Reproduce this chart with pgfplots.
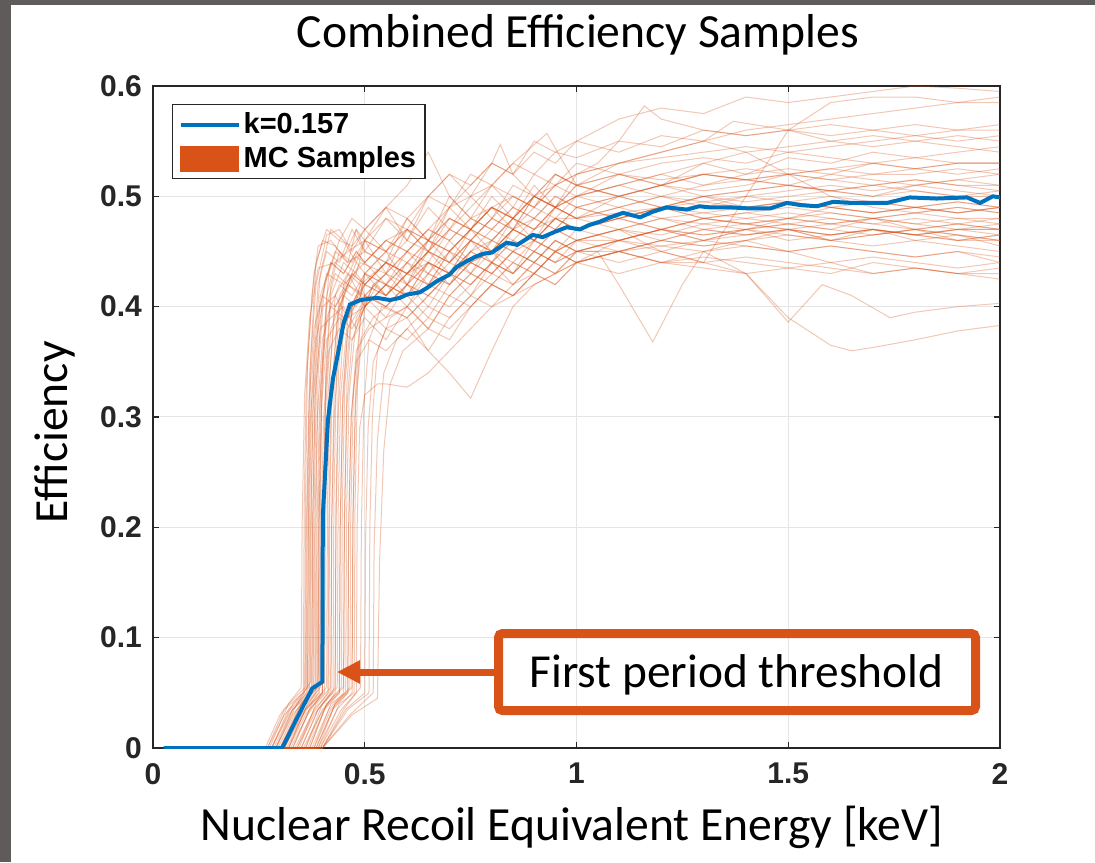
\documentclass[border=0pt]{standalone}
\usepackage{pgfplots}
\pgfplotsset{compat=1.18}
\usepackage{fontspec}
\setmainfont{Carlito}
\newfontfamily\tickfont{Liberation Sans}
\usetikzlibrary{arrows.meta}
\definecolor{mcblue}{RGB}{0,114,189}
\definecolor{mcorange}{RGB}{217,83,25}
\definecolor{framegray}{RGB}{95,91,90}
\definecolor{axgray}{RGB}{38,38,38}
\pgfplotsset{mcline/.style={mcorange, line width=0.5pt, draw opacity=0.32, forget plot, no markers}}
\newcommand{\mc}[1]{\addplot[mcline] coordinates {#1};}
\begin{document}
\begin{tikzpicture}
\begin{scope}[x=0.5pt,y=0.5pt]
\fill[framegray] (-153,-114) rectangle (942,748);
\fill[white] (-142,-114) rectangle (942,743);
\end{scope}
\begin{axis}[
  at={(0,0)}, anchor=south west, scale only axis,
  width=423.5pt, height=331pt,
  xmin=0, xmax=2, ymin=0, ymax=0.6,
  xtick={0,0.5,1,1.5,2}, ytick={0,0.1,0.2,0.3,0.4,0.5,0.6},
  grid=major, major grid style={draw=black!10, line width=0.5pt},
  axis line style={draw=axgray, line width=0.7pt},
  tick style={draw=axgray, line width=0.7pt},
  tick align=inside, major tick length=3pt,
  /pgf/number format/assume math mode=true,
  ticklabel style={font=\tickfont\bfseries\fontsize{15}{18}\selectfont, text=axgray},
  xticklabel style={yshift=-4pt},
  yticklabel style={xshift=-2pt},
  title={Combined Efficiency Samples},
  title style={at={(axis description cs:0.5018,1.0393)}, anchor=base, font=\fontsize{23.8}{28}\selectfont},
  xlabel={Nuclear Recoil Equivalent Energy [keV]},
  xlabel style={at={(axis description cs:0.4947,-0.139)}, anchor=base, font=\fontsize{23.8}{28}\selectfont},
  ylabel={Efficiency},
  ylabel style={at={(axis description cs:-0.1015,0.477)}, anchor=base, font=\fontsize{23.8}{28}\selectfont},
  legend cell align=left,
  legend style={at={(axis description cs:0.0224,0.9728)}, anchor=north west, draw=axgray, line width=0.7pt, fill=white,
    inner xsep=3pt, inner ysep=2.5pt, row sep=2pt,
    font=\tickfont\bfseries\fontsize{14.5}{17}\selectfont, nodes={inner sep=1.5pt}},
]
\addlegendimage{legend image code/.code={\draw[mcblue, line width=2pt] (0pt,0pt) -- (29pt,0pt);}}
\addlegendentry{k=0.157}
\addlegendimage{legend image code/.code={\fill[mcorange] (0pt,-6.25pt) rectangle (29pt,6.25pt);}}
\addlegendentry{MC Samples}

\mc{(0.25,0)(0.265,0)(0.30,0.03)(0.35,0.055)(0.352,0.2)(0.358,0.32)(0.37,0.39)(0.39,0.435)(0.43,0.44)(0.46,0.45)(0.5,0.46)(0.55,0.45)(0.6,0.47)(0.65,0.46)(0.7,0.48)(0.75,0.47)(0.8,0.49)(0.85,0.50)(0.9,0.49)(0.95,0.51)(1.0,0.50)(1.1,0.51)(1.2,0.52)(1.3,0.51)(1.4,0.52)(1.5,0.525)(1.6,0.52)(1.7,0.53)(1.8,0.525)(1.9,0.53)(2.0,0.53)}
\mc{(0.25,0)(0.27,0)(0.31,0.035)(0.355,0.05)(0.357,0.22)(0.362,0.33)(0.375,0.41)(0.39,0.455)(0.42,0.46)(0.45,0.445)(0.48,0.47)(0.5,0.46)(0.55,0.48)(0.6,0.47)(0.65,0.50)(0.7,0.49)(0.75,0.52)(0.8,0.51)(0.85,0.53)(0.9,0.52)(0.95,0.54)(1.0,0.535)(1.1,0.55)(1.2,0.545)(1.3,0.56)(1.4,0.555)(1.5,0.56)(1.6,0.565)(1.7,0.56)(1.8,0.565)(1.9,0.56)(2.0,0.565)}
\mc{(0.25,0)(0.275,0)(0.32,0.04)(0.36,0.055)(0.362,0.2)(0.368,0.31)(0.38,0.38)(0.40,0.41)(0.43,0.40)(0.46,0.42)(0.5,0.41)(0.55,0.43)(0.6,0.42)(0.65,0.44)(0.7,0.43)(0.75,0.45)(0.8,0.44)(0.85,0.46)(0.9,0.45)(0.95,0.47)(1.0,0.46)(1.1,0.47)(1.2,0.465)(1.3,0.475)(1.4,0.47)(1.5,0.48)(1.6,0.475)(1.7,0.48)(1.8,0.47)(1.9,0.475)(2.0,0.48)}
\mc{(0.25,0)(0.28,0)(0.32,0.03)(0.362,0.05)(0.364,0.21)(0.37,0.34)(0.385,0.42)(0.41,0.465)(0.44,0.47)(0.47,0.45)(0.5,0.47)(0.55,0.49)(0.6,0.46)(0.65,0.50)(0.7,0.52)(0.75,0.50)(0.8,0.53)(0.85,0.52)(0.9,0.55)(0.95,0.54)(1.0,0.55)(1.1,0.57)(1.2,0.58)(1.3,0.575)(1.4,0.59)(1.5,0.585)(1.6,0.59)(1.7,0.595)(1.8,0.60)(1.9,0.598)(2.0,0.595)}
\mc{(0.25,0)(0.28,0)(0.33,0.04)(0.365,0.055)(0.367,0.2)(0.372,0.3)(0.385,0.37)(0.40,0.40)(0.43,0.41)(0.46,0.39)(0.5,0.40)(0.55,0.42)(0.6,0.41)(0.65,0.39)(0.7,0.42)(0.75,0.44)(0.8,0.43)(0.85,0.45)(0.9,0.44)(0.95,0.46)(1.0,0.45)(1.1,0.46)(1.2,0.455)(1.3,0.46)(1.4,0.47)(1.5,0.465)(1.6,0.46)(1.7,0.465)(1.8,0.47)(1.9,0.465)(2.0,0.46)}
\mc{(0.25,0)(0.285,0)(0.33,0.035)(0.368,0.05)(0.37,0.22)(0.376,0.34)(0.39,0.42)(0.41,0.45)(0.44,0.44)(0.47,0.47)(0.5,0.45)(0.55,0.44)(0.6,0.48)(0.65,0.46)(0.7,0.50)(0.75,0.48)(0.8,0.51)(0.85,0.50)(0.9,0.49)(0.95,0.52)(1.0,0.51)(1.1,0.50)(1.2,0.51)(1.3,0.52)(1.4,0.515)(1.5,0.51)(1.6,0.52)(1.7,0.515)(1.8,0.51)(1.9,0.515)(2.0,0.52)}
\mc{(0.25,0)(0.29,0)(0.33,0.03)(0.37,0.05)(0.372,0.2)(0.378,0.31)(0.39,0.39)(0.41,0.43)(0.45,0.42)(0.5,0.44)(0.55,0.42)(0.6,0.45)(0.65,0.43)(0.7,0.46)(0.75,0.44)(0.8,0.45)(0.85,0.47)(0.9,0.46)(0.95,0.48)(1.0,0.47)(1.1,0.48)(1.2,0.49)(1.3,0.485)(1.4,0.49)(1.5,0.495)(1.6,0.49)(1.7,0.485)(1.8,0.49)(1.9,0.495)(2.0,0.49)}
\mc{(0.25,0)(0.29,0)(0.34,0.04)(0.372,0.06)(0.374,0.23)(0.38,0.35)(0.395,0.43)(0.42,0.47)(0.45,0.46)(0.48,0.44)(0.5,0.46)(0.55,0.43)(0.6,0.47)(0.65,0.45)(0.7,0.49)(0.75,0.47)(0.8,0.50)(0.85,0.48)(0.9,0.51)(0.95,0.49)(1.0,0.50)(1.1,0.52)(1.2,0.51)(1.3,0.53)(1.4,0.52)(1.5,0.535)(1.6,0.53)(1.7,0.54)(1.8,0.535)(1.9,0.54)(2.0,0.545)}
\mc{(0.25,0)(0.295,0)(0.34,0.035)(0.375,0.05)(0.377,0.2)(0.383,0.32)(0.395,0.38)(0.42,0.39)(0.45,0.40)(0.48,0.38)(0.5,0.41)(0.55,0.39)(0.6,0.42)(0.65,0.40)(0.7,0.43)(0.75,0.41)(0.8,0.44)(0.85,0.42)(0.9,0.43)(0.95,0.45)(1.0,0.44)(1.1,0.45)(1.2,0.44)(1.3,0.45)(1.4,0.455)(1.5,0.45)(1.6,0.44)(1.7,0.445)(1.8,0.44)(1.9,0.435)(2.0,0.44)}
\mc{(0.25,0)(0.30,0)(0.34,0.03)(0.378,0.05)(0.38,0.21)(0.386,0.33)(0.40,0.41)(0.42,0.44)(0.45,0.43)(0.48,0.45)(0.5,0.44)(0.55,0.46)(0.6,0.45)(0.65,0.47)(0.7,0.46)(0.75,0.48)(0.8,0.47)(0.85,0.49)(0.9,0.48)(0.95,0.50)(1.0,0.49)(1.1,0.50)(1.2,0.49)(1.3,0.50)(1.4,0.495)(1.5,0.50)(1.6,0.505)(1.7,0.50)(1.8,0.51)(1.9,0.505)(2.0,0.50)}
\mc{(0.25,0)(0.30,0)(0.35,0.04)(0.38,0.055)(0.382,0.2)(0.388,0.3)(0.40,0.37)(0.42,0.40)(0.45,0.39)(0.48,0.41)(0.5,0.40)(0.55,0.42)(0.6,0.40)(0.65,0.43)(0.7,0.42)(0.75,0.44)(0.8,0.45)(0.85,0.43)(0.9,0.46)(0.95,0.45)(1.0,0.47)(1.1,0.46)(1.2,0.47)(1.3,0.465)(1.4,0.47)(1.5,0.475)(1.6,0.47)(1.7,0.48)(1.8,0.475)(1.9,0.47)(2.0,0.475)}
\mc{(0.25,0)(0.305,0)(0.35,0.035)(0.383,0.05)(0.385,0.22)(0.39,0.34)(0.405,0.42)(0.43,0.45)(0.46,0.44)(0.48,0.47)(0.5,0.45)(0.55,0.48)(0.6,0.46)(0.65,0.49)(0.7,0.47)(0.75,0.50)(0.8,0.51)(0.85,0.49)(0.9,0.52)(0.95,0.51)(1.0,0.53)(1.1,0.52)(1.2,0.53)(1.3,0.535)(1.4,0.53)(1.5,0.54)(1.6,0.535)(1.7,0.53)(1.8,0.535)(1.9,0.53)(2.0,0.53)}
\mc{(0.25,0)(0.31,0)(0.35,0.03)(0.385,0.05)(0.387,0.2)(0.393,0.31)(0.41,0.39)(0.44,0.42)(0.47,0.41)(0.5,0.43)(0.55,0.41)(0.6,0.44)(0.65,0.42)(0.7,0.45)(0.75,0.43)(0.8,0.46)(0.85,0.45)(0.9,0.44)(0.95,0.46)(1.0,0.45)(1.1,0.46)(1.2,0.47)(1.3,0.46)(1.4,0.465)(1.5,0.47)(1.6,0.46)(1.7,0.455)(1.8,0.46)(1.9,0.455)(2.0,0.45)}
\mc{(0.25,0)(0.31,0)(0.355,0.04)(0.388,0.055)(0.39,0.21)(0.396,0.33)(0.41,0.41)(0.43,0.44)(0.46,0.43)(0.49,0.41)(0.5,0.43)(0.55,0.45)(0.6,0.42)(0.65,0.46)(0.7,0.44)(0.75,0.47)(0.8,0.45)(0.85,0.48)(0.9,0.46)(0.95,0.49)(1.0,0.48)(1.1,0.49)(1.2,0.50)(1.3,0.49)(1.4,0.50)(1.5,0.505)(1.6,0.51)(1.7,0.505)(1.8,0.51)(1.9,0.515)(2.0,0.51)}
\mc{(0.25,0)(0.315,0)(0.355,0.03)(0.39,0.05)(0.392,0.2)(0.398,0.31)(0.41,0.37)(0.44,0.39)(0.47,0.38)(0.5,0.40)(0.55,0.38)(0.6,0.39)(0.65,0.36)(0.7,0.34)(0.75,0.317)(0.8,0.36)(0.85,0.40)(0.9,0.42)(0.95,0.43)(1.0,0.44)(1.1,0.45)(1.2,0.46)(1.3,0.455)(1.4,0.46)(1.5,0.47)(1.6,0.465)(1.7,0.47)(1.8,0.465)(1.9,0.47)(2.0,0.465)}
\mc{(0.25,0)(0.32,0)(0.36,0.035)(0.393,0.05)(0.395,0.22)(0.40,0.35)(0.415,0.43)(0.44,0.46)(0.47,0.455)(0.5,0.47)(0.55,0.45)(0.6,0.48)(0.65,0.46)(0.7,0.49)(0.75,0.50)(0.8,0.48)(0.85,0.51)(0.9,0.50)(0.95,0.52)(1.0,0.51)(1.1,0.52)(1.2,0.515)(1.3,0.52)(1.4,0.525)(1.5,0.52)(1.6,0.515)(1.7,0.52)(1.8,0.525)(1.9,0.52)(2.0,0.525)}
\mc{(0.25,0)(0.32,0)(0.365,0.04)(0.395,0.055)(0.397,0.2)(0.403,0.3)(0.415,0.36)(0.44,0.38)(0.47,0.37)(0.5,0.39)(0.55,0.37)(0.6,0.40)(0.65,0.38)(0.7,0.41)(0.75,0.40)(0.8,0.42)(0.85,0.41)(0.9,0.43)(0.95,0.42)(1.0,0.44)(1.1,0.43)(1.2,0.44)(1.3,0.435)(1.4,0.43)(1.5,0.435)(1.6,0.43)(1.7,0.44)(1.8,0.435)(1.9,0.43)(2.0,0.425)}
\mc{(0.25,0)(0.325,0)(0.365,0.03)(0.40,0.05)(0.402,0.21)(0.408,0.33)(0.42,0.41)(0.45,0.44)(0.48,0.43)(0.5,0.46)(0.55,0.49)(0.6,0.51)(0.65,0.54)(0.7,0.50)(0.75,0.48)(0.8,0.47)(0.85,0.49)(0.9,0.48)(0.95,0.50)(1.0,0.49)(1.1,0.50)(1.2,0.49)(1.3,0.495)(1.4,0.50)(1.5,0.495)(1.6,0.49)(1.7,0.495)(1.8,0.49)(1.9,0.485)(2.0,0.49)}
\mc{(0.25,0)(0.33,0)(0.37,0.035)(0.405,0.05)(0.407,0.2)(0.413,0.32)(0.43,0.40)(0.46,0.42)(0.49,0.41)(0.5,0.43)(0.55,0.42)(0.6,0.44)(0.65,0.43)(0.7,0.45)(0.75,0.47)(0.8,0.46)(0.85,0.48)(0.9,0.47)(0.95,0.49)(1.0,0.48)(1.1,0.485)(1.2,0.49)(1.3,0.48)(1.4,0.485)(1.5,0.48)(1.6,0.475)(1.7,0.48)(1.8,0.475)(1.9,0.48)(2.0,0.48)}
\mc{(0.25,0)(0.33,0)(0.375,0.04)(0.41,0.055)(0.412,0.22)(0.418,0.34)(0.43,0.41)(0.46,0.43)(0.49,0.42)(0.55,0.44)(0.6,0.43)(0.65,0.45)(0.7,0.44)(0.75,0.46)(0.8,0.45)(0.85,0.47)(0.9,0.48)(0.95,0.47)(1.0,0.49)(1.1,0.48)(1.2,0.47)(1.3,0.48)(1.4,0.475)(1.5,0.47)(1.6,0.465)(1.7,0.47)(1.8,0.46)(1.9,0.465)(2.0,0.455)}
\mc{(0.25,0)(0.335,0)(0.375,0.03)(0.413,0.05)(0.415,0.2)(0.42,0.31)(0.435,0.39)(0.46,0.42)(0.49,0.44)(0.55,0.43)(0.6,0.45)(0.65,0.47)(0.7,0.49)(0.75,0.51)(0.8,0.53)(0.82,0.547)(0.85,0.52)(0.9,0.50)(0.95,0.51)(1.0,0.52)(1.1,0.53)(1.2,0.535)(1.3,0.54)(1.4,0.545)(1.5,0.54)(1.6,0.545)(1.7,0.55)(1.8,0.555)(1.9,0.55)(2.0,0.555)}
\mc{(0.25,0)(0.34,0)(0.38,0.035)(0.415,0.05)(0.417,0.21)(0.423,0.33)(0.44,0.41)(0.47,0.43)(0.50,0.42)(0.55,0.44)(0.6,0.42)(0.65,0.45)(0.7,0.43)(0.75,0.46)(0.8,0.44)(0.85,0.47)(0.9,0.46)(0.95,0.48)(1.0,0.47)(1.1,0.48)(1.2,0.49)(1.3,0.48)(1.4,0.485)(1.5,0.49)(1.6,0.485)(1.7,0.48)(1.8,0.485)(1.9,0.49)(2.0,0.485)}
\mc{(0.25,0)(0.345,0)(0.385,0.04)(0.42,0.055)(0.422,0.2)(0.428,0.3)(0.44,0.37)(0.47,0.40)(0.5,0.41)(0.55,0.40)(0.6,0.42)(0.65,0.41)(0.7,0.43)(0.75,0.42)(0.8,0.44)(0.85,0.43)(0.9,0.45)(0.95,0.44)(1.0,0.45)(1.05,0.45)(1.1,0.42)(1.18,0.368)(1.25,0.42)(1.3,0.45)(1.4,0.46)(1.5,0.465)(1.6,0.46)(1.7,0.47)(1.8,0.465)(1.9,0.47)(2.0,0.47)}
\mc{(0.25,0)(0.35,0)(0.39,0.035)(0.425,0.05)(0.427,0.22)(0.433,0.34)(0.45,0.42)(0.48,0.445)(0.5,0.44)(0.55,0.46)(0.6,0.45)(0.65,0.47)(0.7,0.46)(0.75,0.48)(0.8,0.49)(0.85,0.47)(0.9,0.50)(0.95,0.49)(1.0,0.51)(1.1,0.50)(1.2,0.51)(1.3,0.505)(1.4,0.51)(1.5,0.52)(1.6,0.515)(1.7,0.51)(1.8,0.515)(1.9,0.51)(2.0,0.505)}
\mc{(0.25,0)(0.355,0)(0.395,0.03)(0.43,0.05)(0.432,0.2)(0.438,0.31)(0.45,0.38)(0.48,0.41)(0.5,0.42)(0.55,0.41)(0.6,0.43)(0.65,0.45)(0.7,0.44)(0.75,0.46)(0.8,0.45)(0.85,0.47)(0.9,0.46)(0.95,0.48)(1.0,0.48)(1.1,0.47)(1.2,0.45)(1.3,0.44)(1.4,0.50)(1.5,0.56)(1.6,0.585)(1.7,0.59)(1.8,0.59)(1.9,0.585)(2.0,0.585)}
\mc{(0.25,0)(0.36,0)(0.40,0.04)(0.435,0.055)(0.437,0.21)(0.443,0.32)(0.46,0.39)(0.49,0.41)(0.5,0.40)(0.55,0.42)(0.6,0.41)(0.65,0.43)(0.7,0.42)(0.75,0.44)(0.8,0.43)(0.85,0.45)(0.9,0.46)(0.95,0.45)(1.0,0.46)(1.1,0.47)(1.2,0.46)(1.3,0.47)(1.4,0.465)(1.5,0.47)(1.6,0.475)(1.7,0.47)(1.8,0.465)(1.9,0.47)(2.0,0.47)}
\mc{(0.25,0)(0.365,0)(0.405,0.035)(0.44,0.05)(0.442,0.2)(0.448,0.32)(0.46,0.38)(0.49,0.42)(0.5,0.41)(0.55,0.43)(0.6,0.45)(0.65,0.44)(0.7,0.47)(0.75,0.49)(0.8,0.51)(0.85,0.53)(0.93,0.557)(0.97,0.53)(1.0,0.51)(1.1,0.52)(1.2,0.51)(1.3,0.52)(1.4,0.515)(1.5,0.52)(1.6,0.525)(1.7,0.53)(1.8,0.525)(1.9,0.53)(2.0,0.53)}
\mc{(0.25,0)(0.37,0)(0.41,0.04)(0.445,0.055)(0.447,0.22)(0.453,0.33)(0.47,0.40)(0.50,0.42)(0.55,0.41)(0.6,0.43)(0.65,0.42)(0.7,0.44)(0.75,0.43)(0.8,0.45)(0.85,0.44)(0.9,0.46)(0.95,0.45)(1.0,0.46)(1.1,0.46)(1.2,0.47)(1.3,0.465)(1.4,0.47)(1.5,0.46)(1.6,0.465)(1.7,0.47)(1.8,0.465)(1.9,0.46)(2.0,0.465)}
\mc{(0.25,0)(0.375,0)(0.415,0.035)(0.45,0.05)(0.452,0.2)(0.458,0.31)(0.47,0.37)(0.50,0.40)(0.55,0.42)(0.6,0.41)(0.65,0.44)(0.7,0.43)(0.75,0.46)(0.8,0.48)(0.85,0.47)(0.9,0.50)(0.95,0.49)(1.0,0.52)(1.05,0.53)(1.1,0.55)(1.16,0.582)(1.2,0.57)(1.3,0.56)(1.4,0.555)(1.5,0.56)(1.6,0.555)(1.7,0.56)(1.8,0.555)(1.9,0.56)(2.0,0.56)}
\mc{(0.25,0)(0.38,0)(0.42,0.04)(0.455,0.05)(0.457,0.21)(0.463,0.32)(0.48,0.39)(0.51,0.41)(0.55,0.40)(0.6,0.42)(0.65,0.41)(0.7,0.43)(0.75,0.44)(0.8,0.43)(0.85,0.45)(0.9,0.44)(0.95,0.46)(1.0,0.45)(1.1,0.46)(1.2,0.45)(1.3,0.46)(1.4,0.455)(1.5,0.45)(1.6,0.455)(1.7,0.45)(1.8,0.445)(1.9,0.45)(2.0,0.445)}
\mc{(0.25,0)(0.385,0)(0.425,0.035)(0.46,0.05)(0.462,0.2)(0.468,0.3)(0.48,0.36)(0.51,0.38)(0.55,0.39)(0.6,0.40)(0.65,0.42)(0.7,0.41)(0.75,0.43)(0.8,0.42)(0.85,0.44)(0.9,0.43)(0.95,0.45)(1.0,0.44)(1.1,0.45)(1.2,0.44)(1.3,0.445)(1.4,0.44)(1.5,0.435)(1.6,0.44)(1.7,0.43)(1.8,0.435)(1.9,0.43)(2.0,0.435)}
\mc{(0.25,0)(0.39,0)(0.43,0.04)(0.465,0.055)(0.467,0.21)(0.473,0.32)(0.49,0.39)(0.52,0.42)(0.55,0.41)(0.6,0.43)(0.65,0.42)(0.7,0.45)(0.75,0.44)(0.8,0.46)(0.85,0.48)(0.9,0.47)(0.95,0.49)(1.0,0.48)(1.1,0.50)(1.2,0.51)(1.3,0.50)(1.4,0.505)(1.5,0.51)(1.6,0.505)(1.7,0.50)(1.8,0.505)(1.9,0.50)(2.0,0.50)}
\mc{(0.25,0)(0.39,0)(0.435,0.035)(0.47,0.05)(0.472,0.2)(0.478,0.31)(0.49,0.37)(0.52,0.39)(0.55,0.40)(0.6,0.39)(0.65,0.41)(0.7,0.43)(0.75,0.42)(0.8,0.44)(0.85,0.43)(0.9,0.45)(0.95,0.44)(1.0,0.45)(1.1,0.45)(1.2,0.455)(1.3,0.45)(1.4,0.43)(1.5,0.386)(1.58,0.42)(1.65,0.41)(1.74,0.39)(1.8,0.395)(1.9,0.40)(2.0,0.403)}
\mc{(0.25,0)(0.395,0)(0.44,0.04)(0.475,0.05)(0.477,0.22)(0.483,0.33)(0.50,0.40)(0.53,0.42)(0.55,0.41)(0.6,0.43)(0.65,0.44)(0.7,0.42)(0.75,0.45)(0.8,0.47)(0.85,0.46)(0.9,0.48)(0.95,0.47)(1.0,0.49)(1.1,0.48)(1.2,0.49)(1.3,0.50)(1.4,0.49)(1.5,0.495)(1.6,0.49)(1.7,0.485)(1.8,0.49)(1.9,0.485)(2.0,0.49)}
\mc{(0.25,0)(0.395,0)(0.445,0.035)(0.48,0.05)(0.482,0.2)(0.488,0.29)(0.50,0.32)(0.53,0.33)(0.55,0.33)(0.6,0.327)(0.65,0.34)(0.7,0.36)(0.75,0.38)(0.8,0.40)(0.85,0.41)(0.9,0.42)(0.95,0.43)(1.0,0.44)(1.1,0.45)(1.2,0.46)(1.3,0.455)(1.4,0.46)(1.5,0.45)(1.6,0.455)(1.7,0.45)(1.8,0.445)(1.9,0.45)(2.0,0.44)}
\mc{(0.25,0)(0.40,0)(0.45,0.035)(0.49,0.055)(0.492,0.2)(0.498,0.31)(0.51,0.37)(0.54,0.40)(0.6,0.39)(0.65,0.41)(0.7,0.40)(0.75,0.42)(0.8,0.44)(0.85,0.43)(0.9,0.45)(0.95,0.44)(1.0,0.46)(1.1,0.47)(1.2,0.48)(1.3,0.475)(1.4,0.48)(1.5,0.485)(1.6,0.48)(1.7,0.475)(1.8,0.48)(1.9,0.475)(2.0,0.47)}
\mc{(0.25,0)(0.40,0)(0.455,0.035)(0.50,0.05)(0.502,0.19)(0.508,0.29)(0.52,0.35)(0.55,0.38)(0.6,0.37)(0.65,0.39)(0.7,0.38)(0.75,0.40)(0.8,0.42)(0.85,0.41)(0.9,0.43)(0.95,0.42)(1.0,0.44)(1.1,0.45)(1.2,0.46)(1.3,0.47)(1.4,0.465)(1.5,0.47)(1.6,0.46)(1.7,0.465)(1.8,0.47)(1.9,0.46)(2.0,0.465)}
\mc{(0.25,0)(0.40,0)(0.46,0.035)(0.51,0.05)(0.512,0.2)(0.518,0.3)(0.53,0.36)(0.56,0.39)(0.6,0.40)(0.65,0.38)(0.7,0.41)(0.75,0.43)(0.8,0.42)(0.85,0.44)(0.9,0.43)(0.95,0.45)(1.0,0.46)(1.1,0.45)(1.2,0.44)(1.3,0.44)(1.4,0.43)(1.5,0.39)(1.6,0.365)(1.65,0.36)(1.7,0.363)(1.8,0.37)(1.9,0.378)(2.0,0.383)}
\mc{(0.25,0)(0.40,0)(0.465,0.03)(0.52,0.05)(0.522,0.18)(0.53,0.28)(0.545,0.34)(0.575,0.37)(0.6,0.38)(0.65,0.36)(0.7,0.39)(0.75,0.41)(0.8,0.40)(0.85,0.42)(0.9,0.44)(0.95,0.43)(1.0,0.45)(1.1,0.46)(1.2,0.47)(1.3,0.48)(1.4,0.475)(1.5,0.48)(1.6,0.49)(1.7,0.485)(1.8,0.49)(1.9,0.485)(2.0,0.49)}
\mc{(0.25,0)(0.40,0)(0.47,0.03)(0.53,0.045)(0.535,0.17)(0.545,0.27)(0.56,0.33)(0.59,0.36)(0.65,0.38)(0.7,0.37)(0.75,0.40)(0.8,0.42)(0.85,0.41)(0.9,0.43)(0.95,0.45)(1.0,0.44)(1.1,0.46)(1.2,0.47)(1.3,0.46)(1.4,0.47)(1.5,0.475)(1.6,0.47)(1.7,0.465)(1.8,0.47)(1.9,0.465)(2.0,0.46)}
\mc{(0.25,0)(0.28,0)(0.32,0.035)(0.358,0.05)(0.36,0.22)(0.365,0.35)(0.38,0.43)(0.40,0.46)(0.43,0.455)(0.46,0.44)(0.5,0.45)(0.55,0.44)(0.6,0.46)(0.65,0.45)(0.7,0.47)(0.75,0.46)(0.8,0.48)(0.85,0.50)(0.9,0.49)(0.95,0.51)(1.0,0.52)(1.1,0.53)(1.2,0.54)(1.3,0.55)(1.37,0.568)(1.5,0.56)(1.6,0.55)(1.7,0.555)(1.8,0.55)(1.9,0.545)(2.0,0.54)}
\mc{(0.25,0)(0.30,0)(0.35,0.04)(0.39,0.055)(0.392,0.21)(0.398,0.32)(0.41,0.40)(0.43,0.43)(0.46,0.42)(0.48,0.44)(0.5,0.43)(0.55,0.45)(0.6,0.44)(0.65,0.46)(0.7,0.45)(0.75,0.47)(0.8,0.46)(0.85,0.48)(0.9,0.47)(0.95,0.49)(1.0,0.48)(1.1,0.49)(1.2,0.48)(1.3,0.485)(1.4,0.48)(1.5,0.475)(1.6,0.48)(1.7,0.475)(1.8,0.47)(1.9,0.475)(2.0,0.47)}
\mc{(0.25,0)(0.31,0)(0.36,0.035)(0.40,0.05)(0.402,0.2)(0.408,0.31)(0.42,0.38)(0.45,0.41)(0.48,0.40)(0.5,0.42)(0.55,0.44)(0.6,0.43)(0.65,0.45)(0.7,0.47)(0.75,0.46)(0.8,0.48)(0.85,0.47)(0.9,0.49)(0.95,0.48)(1.0,0.50)(1.1,0.51)(1.2,0.50)(1.3,0.51)(1.4,0.515)(1.5,0.51)(1.6,0.505)(1.7,0.51)(1.8,0.505)(1.9,0.50)(2.0,0.505)}
\mc{(0.25,0)(0.34,0)(0.38,0.03)(0.42,0.05)(0.422,0.21)(0.428,0.33)(0.44,0.40)(0.47,0.43)(0.5,0.42)(0.55,0.44)(0.6,0.43)(0.65,0.46)(0.7,0.45)(0.75,0.47)(0.8,0.49)(0.85,0.48)(0.9,0.50)(0.95,0.52)(1.0,0.51)(1.1,0.53)(1.2,0.54)(1.3,0.55)(1.4,0.56)(1.5,0.565)(1.6,0.57)(1.7,0.575)(1.8,0.58)(1.9,0.585)(2.0,0.59)}
\mc{(0.25,0)(0.36,0)(0.40,0.035)(0.44,0.05)(0.442,0.2)(0.448,0.31)(0.46,0.38)(0.49,0.40)(0.5,0.41)(0.55,0.40)(0.6,0.42)(0.65,0.44)(0.7,0.43)(0.75,0.45)(0.8,0.44)(0.85,0.46)(0.9,0.45)(0.95,0.47)(1.0,0.46)(1.1,0.47)(1.2,0.48)(1.3,0.47)(1.4,0.475)(1.5,0.48)(1.6,0.485)(1.7,0.48)(1.8,0.485)(1.9,0.49)(2.0,0.485)}
\mc{(0.25,0)(0.37,0)(0.41,0.04)(0.45,0.055)(0.452,0.21)(0.458,0.33)(0.47,0.40)(0.50,0.43)(0.55,0.42)(0.6,0.44)(0.65,0.46)(0.7,0.45)(0.75,0.47)(0.8,0.49)(0.85,0.48)(0.9,0.50)(0.95,0.49)(1.0,0.51)(1.1,0.50)(1.2,0.51)(1.3,0.52)(1.4,0.515)(1.5,0.52)(1.6,0.525)(1.7,0.52)(1.8,0.52)(1.9,0.525)(2.0,0.52)}
\mc{(0.25,0)(0.38,0)(0.42,0.035)(0.46,0.05)(0.462,0.2)(0.468,0.3)(0.48,0.35)(0.51,0.37)(0.55,0.36)(0.6,0.38)(0.65,0.40)(0.7,0.39)(0.75,0.41)(0.8,0.43)(0.85,0.42)(0.9,0.44)(0.95,0.43)(1.0,0.45)(1.1,0.44)(1.2,0.45)(1.3,0.44)(1.4,0.445)(1.5,0.44)(1.6,0.435)(1.7,0.43)(1.8,0.435)(1.9,0.43)(2.0,0.43)}
\mc{(0.25,0)(0.27,0)(0.31,0.03)(0.365,0.05)(0.367,0.23)(0.373,0.36)(0.385,0.44)(0.41,0.47)(0.44,0.46)(0.47,0.48)(0.5,0.47)(0.55,0.49)(0.6,0.48)(0.65,0.50)(0.7,0.52)(0.75,0.51)(0.8,0.53)(0.85,0.52)(0.9,0.54)(0.95,0.53)(1.0,0.55)(1.1,0.54)(1.2,0.555)(1.3,0.55)(1.4,0.54)(1.5,0.52)(1.6,0.50)(1.7,0.49)(1.8,0.485)(1.9,0.48)(2.0,0.475)}
\mc{(0.25,0)(0.29,0)(0.33,0.035)(0.375,0.05)(0.377,0.21)(0.383,0.33)(0.395,0.41)(0.42,0.44)(0.45,0.43)(0.48,0.45)(0.5,0.44)(0.55,0.46)(0.6,0.47)(0.65,0.45)(0.7,0.48)(0.75,0.47)(0.8,0.49)(0.85,0.48)(0.9,0.50)(0.95,0.49)(1.0,0.50)(1.1,0.51)(1.2,0.52)(1.3,0.53)(1.4,0.54)(1.5,0.545)(1.6,0.55)(1.7,0.545)(1.8,0.55)(1.9,0.555)(2.0,0.55)}
\mc{(0.25,0)(0.32,0)(0.36,0.03)(0.40,0.05)(0.402,0.22)(0.408,0.34)(0.42,0.42)(0.44,0.45)(0.47,0.44)(0.5,0.46)(0.55,0.45)(0.6,0.47)(0.65,0.46)(0.7,0.48)(0.75,0.47)(0.8,0.49)(0.85,0.48)(0.9,0.50)(0.95,0.49)(1.0,0.50)(1.1,0.49)(1.2,0.50)(1.3,0.495)(1.4,0.49)(1.5,0.495)(1.6,0.50)(1.7,0.495)(1.8,0.49)(1.9,0.495)(2.0,0.49)}
\mc{(0.25,0)(0.35,0)(0.39,0.035)(0.43,0.055)(0.432,0.22)(0.438,0.34)(0.45,0.41)(0.48,0.43)(0.5,0.42)(0.55,0.44)(0.6,0.43)(0.65,0.45)(0.7,0.44)(0.75,0.46)(0.8,0.45)(0.85,0.47)(0.9,0.46)(0.95,0.48)(1.0,0.47)(1.1,0.48)(1.2,0.47)(1.3,0.48)(1.4,0.475)(1.5,0.47)(1.6,0.465)(1.7,0.47)(1.8,0.465)(1.9,0.46)(2.0,0.46)}
\mc{(0.25,0)(0.385,0)(0.43,0.04)(0.47,0.055)(0.472,0.21)(0.478,0.32)(0.49,0.39)(0.52,0.42)(0.55,0.43)(0.6,0.41)(0.65,0.44)(0.7,0.43)(0.75,0.45)(0.8,0.46)(0.85,0.45)(0.9,0.47)(0.95,0.48)(1.0,0.47)(1.1,0.48)(1.2,0.49)(1.3,0.50)(1.4,0.505)(1.5,0.51)(1.6,0.505)(1.7,0.51)(1.8,0.515)(1.9,0.51)(2.0,0.51)}

\addplot[mcblue, line width=2pt, forget plot, no markers] coordinates {(0.025,0)(0.305,0)(0.34,0.027)(0.376,0.054)(0.40,0.06)(0.401,0.21)(0.413,0.297)(0.425,0.335)(0.437,0.358)(0.45,0.385)(0.465,0.402)(0.49,0.406)(0.528,0.408)(0.56,0.406)(0.583,0.408)(0.60,0.411)(0.63,0.413)(0.647,0.417)(0.67,0.423)(0.70,0.429)(0.717,0.436)(0.74,0.441)(0.76,0.445)(0.78,0.448)(0.80,0.449)(0.835,0.458)(0.86,0.456)(0.897,0.465)(0.92,0.463)(0.95,0.468)(0.977,0.472)(1.008,0.470)(1.03,0.474)(1.055,0.477)(1.08,0.481)(1.11,0.485)(1.15,0.481)(1.18,0.486)(1.213,0.490)(1.26,0.488)(1.29,0.491)(1.315,0.490)(1.362,0.490)(1.41,0.489)(1.457,0.489)(1.497,0.494)(1.53,0.492)(1.568,0.491)(1.606,0.495)(1.65,0.494)(1.69,0.494)(1.733,0.494)(1.787,0.499)(1.85,0.498)(1.922,0.499)(1.953,0.494)(1.983,0.500)(2.0,0.499)};
\end{axis}
\begin{scope}[x=0.5pt,y=0.5pt]
\draw[mcorange, line width=4.5pt, rounded corners=2pt] (345.5,37.5) rectangle (822.5,114.5);
\node[anchor=base, font=\fontsize{23.7}{28}\selectfont, inner sep=0pt] at (583.5,61) {First period threshold};
\draw[mcorange, line width=3.5pt, -{Triangle[length=11.5pt,width=11pt]}] (345.5,76) -- (184,76);
\end{scope}
\pgfresetboundingbox
\path[use as bounding box] (-76.5pt,-57pt) rectangle (471pt,374pt);
\end{tikzpicture}
\end{document}
